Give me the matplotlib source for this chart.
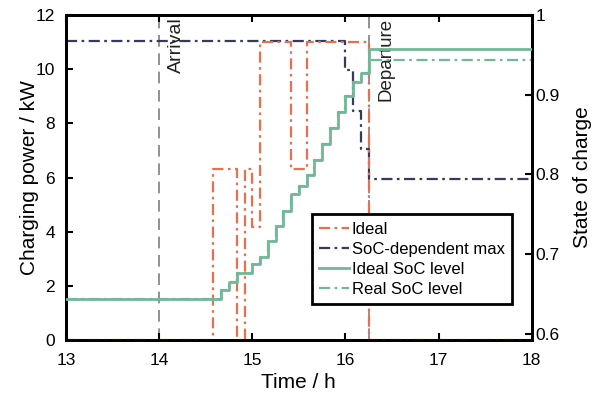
import numpy as np
import matplotlib.pyplot as plt

plt.rcParams['font.family'] = ['Liberation Sans', 'DejaVu Sans']

# charging power (kW), step-post over time (h)
t_ideal = [13, 14.583, 14.833, 14.917, 15.0, 15.083, 15.417, 15.583, 16.25, 18]
p_ideal = [0, 6.33, 0, 6.33, 4.17, 11.0, 6.33, 11.0, 0, 0]

t_max = [13, 16.0, 16.083, 16.167, 16.25, 18]
p_max = [11.04, 9.97, 8.44, 7.07, 5.96, 5.96]

# state of charge, step-post
t_soc = [13, 14.667, 14.75, 14.833, 15.0, 15.083, 15.167, 15.25, 15.333, 15.417,
         15.5, 15.583, 15.667, 15.75, 15.833, 15.917, 16.0, 16.083, 16.167, 16.25, 18]
soc_ideal = [0.643, 0.6545, 0.665, 0.6763, 0.6868, 0.6964, 0.7167, 0.7353, 0.7541, 0.7747,
             0.7852, 0.799, 0.8178, 0.8376, 0.8577, 0.8785, 0.8982, 0.9162, 0.9275, 0.957, 0.957]
soc_real = soc_ideal[:-2] + [0.9435, 0.9435]

t_arrival = 14.0
t_departure = 16.25

c_red = '#E8704F'
c_navy = '#363A5C'
c_green = '#72B898'

fig = plt.figure(figsize=(5.98, 3.96), dpi=100)
ax1 = fig.add_axes([0.1104, 0.1414, 0.7786, 0.8207])
ax2 = ax1.twinx()

ax1.axvline(t_arrival, color='#7f7f7f', lw=1.2, dashes=(7, 4), zorder=1)
ax1.axvline(t_departure, color='#7f7f7f', lw=1.2, dashes=(7, 4), zorder=1)

l1, = ax1.plot(t_ideal, p_ideal, drawstyle='steps-post', color=c_red, lw=1.6,
               dashes=(5, 2, 1.2, 2), label='Ideal', zorder=3, clip_on=False)
l2, = ax1.plot(t_max, p_max, drawstyle='steps-post', color=c_navy, lw=1.6,
               dashes=(5, 2, 1.2, 2), label='SoC-dependent max', zorder=2)
l4, = ax2.plot(t_soc, soc_real, drawstyle='steps-post', color=c_green, lw=1.6,
               dashes=(5, 2, 1.2, 2), label='Real SoC level', zorder=2)
l3, = ax2.plot(t_soc, soc_ideal, drawstyle='steps-post', color=c_green, lw=2.0,
               label='Ideal SoC level', zorder=3)

ax1.text(t_arrival + 0.1, 11.9, 'Arrival', rotation=90, va='top', ha='left',
         fontsize=14, color='#222222')
ax1.text(t_departure + 0.1, 11.9, 'Departure', rotation=90, va='top', ha='left',
         fontsize=13.5, color='#222222')

ax1.set_xlim(13, 18)
ax1.set_ylim(0, 12)
ax2.set_ylim(0.592, 1.0)
ax1.set_xticks([13, 14, 15, 16, 17, 18])
ax1.set_yticks([0, 2, 4, 6, 8, 10, 12])
ax2.set_yticks([0.6, 0.7, 0.8, 0.9, 1.0])
ax2.set_yticklabels(['0.6', '0.7', '0.8', '0.9', '1'])

ax1.set_xlabel('Time / h', fontsize=15)
ax1.set_ylabel('Charging power / kW', fontsize=15)
ax2.set_ylabel('State of charge', fontsize=15, labelpad=9)
ax1.xaxis.set_label_coords(0.5, -0.10)
ax1.yaxis.set_label_coords(-0.058, 0.5)

ax1.tick_params(direction='in', top=True, right=False, length=5, width=1.5,
                labelsize=12.5)
ax1.tick_params(axis='x', pad=9)
ax1.tick_params(axis='y', pad=8)
ax2.tick_params(direction='in', length=5, width=1.5, labelsize=12.5, pad=3)

for ax in (ax1, ax2):
    for s in ax.spines.values():
        s.set_linewidth(2)

leg = ax2.legend([l1, l2, l3, l4],
                 ['Ideal', 'SoC-dependent max', 'Ideal SoC level', 'Real SoC level'],
                 loc='lower right', bbox_to_anchor=(0.958, 0.11), fontsize=12,
                 fancybox=False, edgecolor='black', framealpha=1,
                 handlelength=1.8, handletextpad=0.15, labelspacing=0.3,
                 borderpad=0.45, borderaxespad=0)
leg.get_frame().set_linewidth(2)

fig.savefig('out.png', dpi=100)
